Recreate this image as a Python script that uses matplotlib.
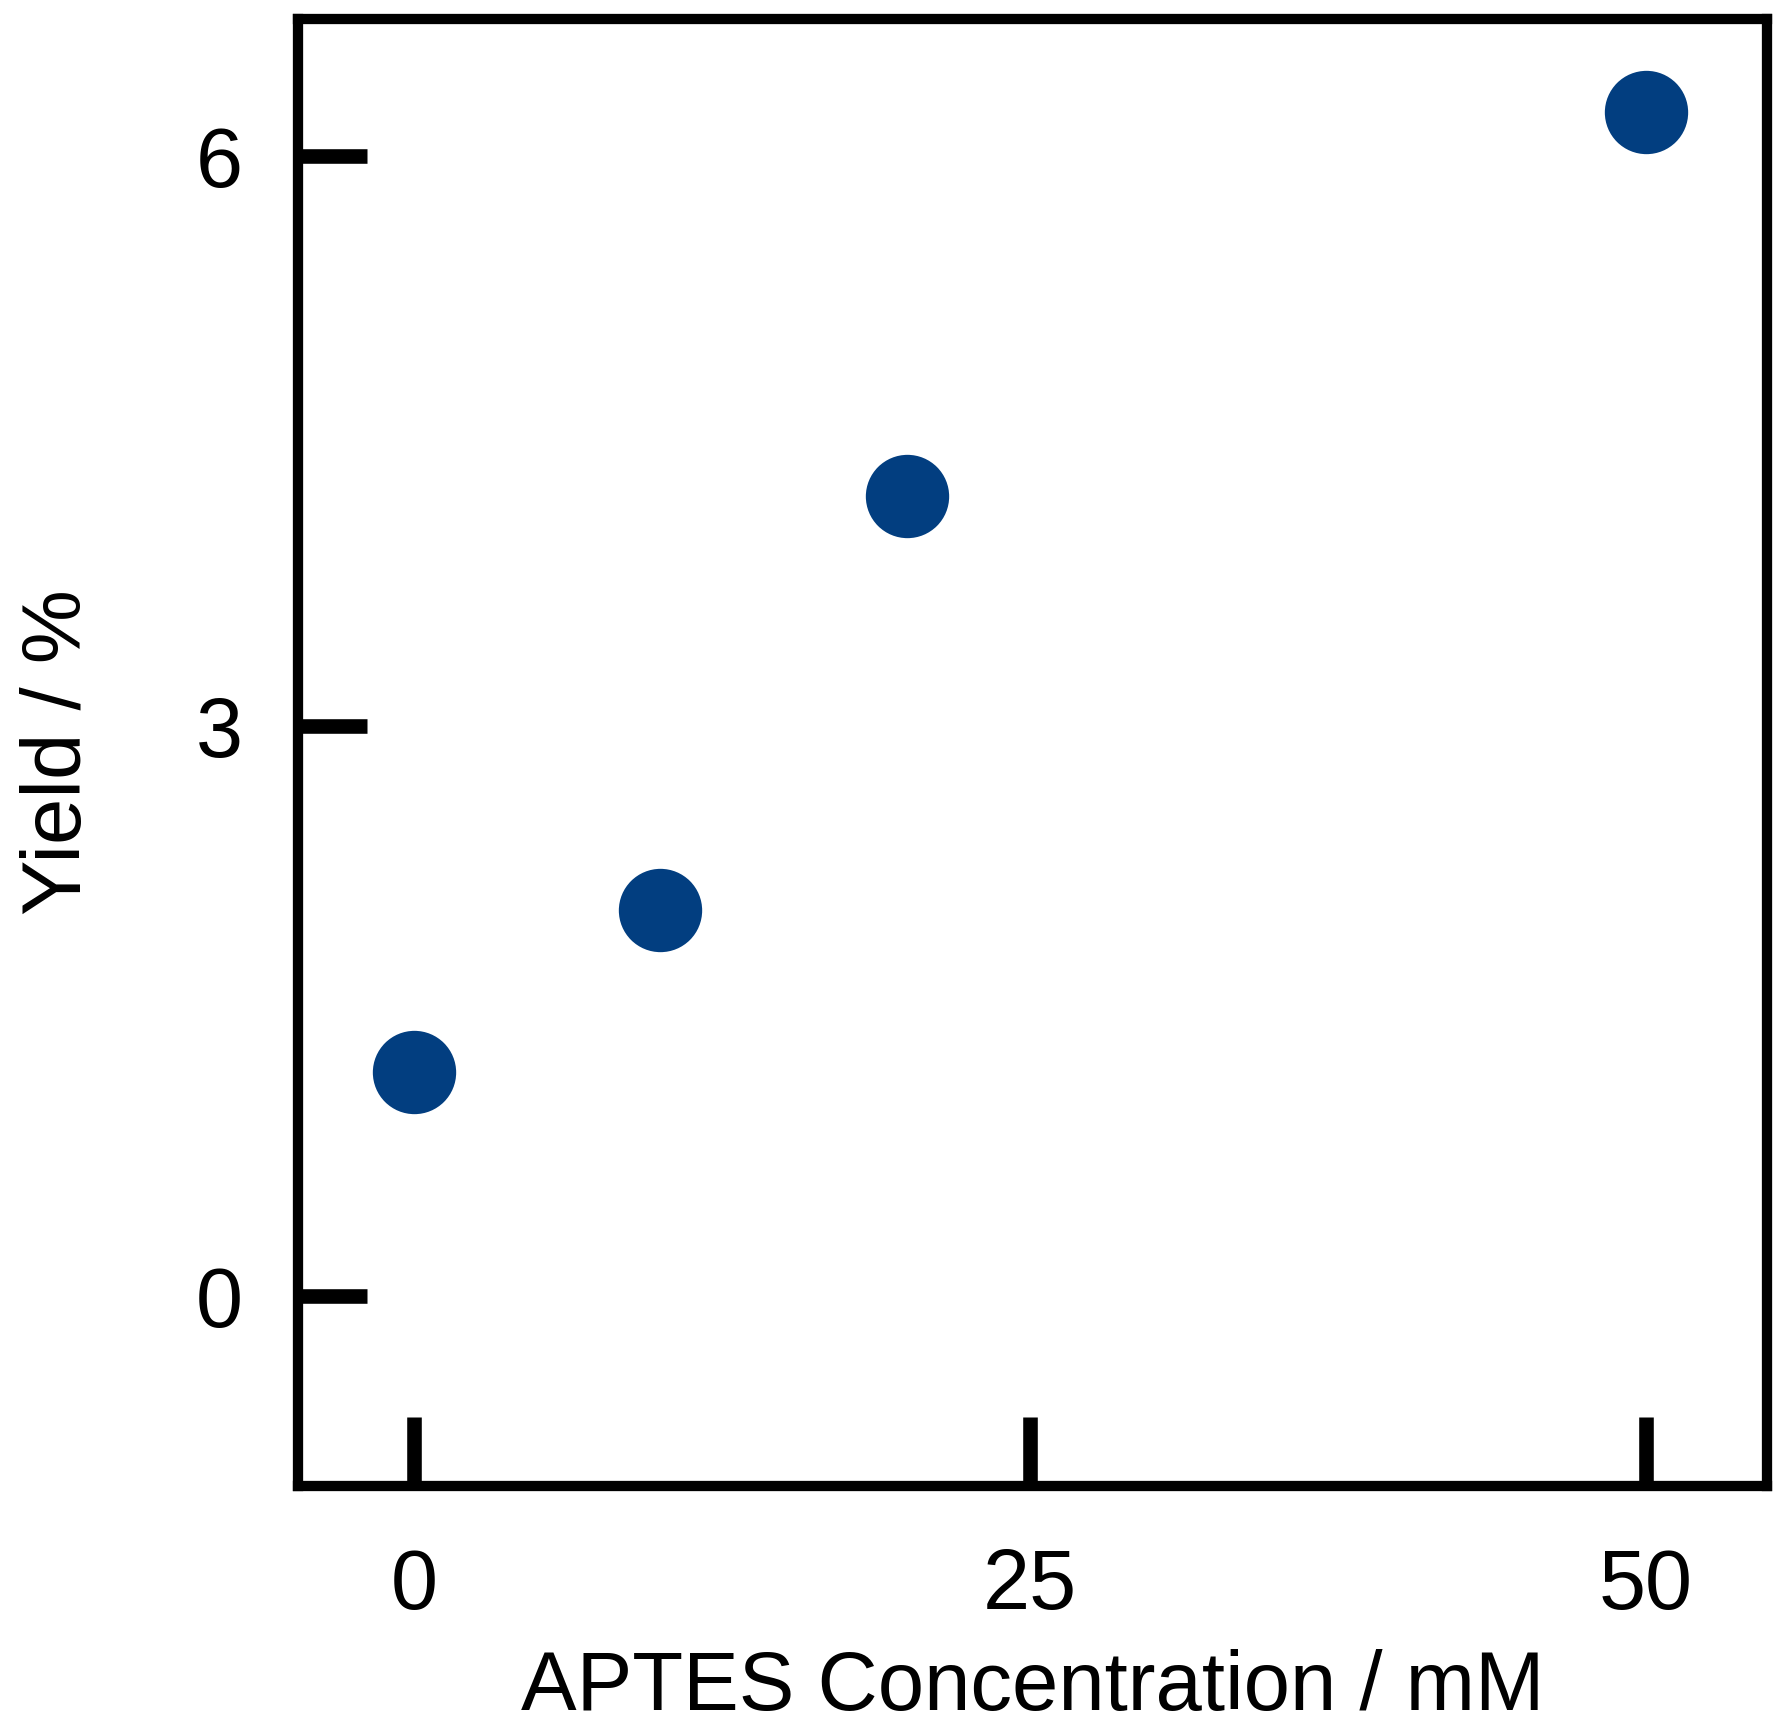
import matplotlib.pyplot as plt

# APTES concentration (mM) vs yield (%)
concentration = [0, 10, 20, 50]
yield_pct = [1.18, 2.03, 4.21, 6.23]

x_ticks = [0, 25, 50]
y_ticks = [0, 3, 6]

plt.rcParams["font.family"] = ["Liberation Sans", "DejaVu Sans"]

fig = plt.figure(figsize=(17.9, 17.29), dpi=100)
ax = fig.add_axes([0.1665, 0.1405, 0.8205, 0.8485])

ax.plot(concentration, yield_pct, "o", color="#023E80", markersize=60,
        markeredgewidth=0, linestyle="none")

ax.set_xlim(-4.7, 54.9)
ax.set_ylim(-1.0, 6.72)
ax.set_xticks(x_ticks)
ax.set_yticks(y_ticks)

for spine in ax.spines.values():
    spine.set_linewidth(7.4)
ax.tick_params(direction="in", length=50, width=10.5, labelsize=61)
ax.tick_params(axis="x", pad=44)
ax.tick_params(axis="y", pad=40)

ax.set_xlabel("APTES Concentration / mM", fontsize=60, labelpad=16)
ax.set_ylabel("Yield / %", fontsize=60, labelpad=70)

fig.savefig("out.png", dpi=100)
